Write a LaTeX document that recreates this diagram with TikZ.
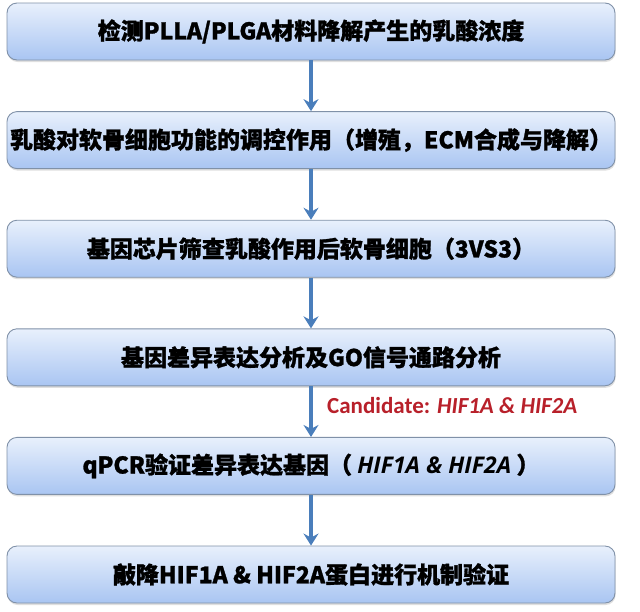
\documentclass[tikz,border=0pt]{standalone}
\usepackage{fontspec}
\setmainfont{Noto Sans CJK SC}[BoldFeatures={FakeBold=1.2}]
\newfontfamily\latit{Open Sans}[BoldFeatures={FakeBold=0.6}]
\newfontfamily\calfont{Carlito}
\usetikzlibrary{arrows.meta,shadows}
\definecolor{boxtop}{HTML}{E8F0FC}
\definecolor{boxbot}{HTML}{A9C5F2}
\definecolor{boxline}{HTML}{8091A8}
\definecolor{arr}{HTML}{4A7EBB}
\definecolor{redtxt}{HTML}{B8202A}
\begin{document}
\begin{tikzpicture}[x=1pt,y=-1pt,
  stepbox/.style={draw=boxline, line width=0.9pt, rounded corners=10pt,
    top color=boxtop, bottom color=boxbot,
    minimum width=608pt, minimum height=57pt, inner sep=0pt,
    font=\fontsize{23}{27}\selectfont\bfseries,
    drop shadow={shadow xshift=0.6pt, shadow yshift=-2pt, opacity=0.25}},
  flow/.style={draw=arr, line width=3.2pt, -{Stealth[length=12pt,width=15pt,inset=4pt]}},
  cand/.style={anchor=west, text=redtxt, inner sep=0pt,
    font=\calfont\fontsize{23}{27}\selectfont\bfseries}]
\useasboundingbox[fill=white] (0,0) rectangle (640,611);
\node[stepbox] (b1) at (311,31.5) {检测PLLA/PLGA材料降解产生的乳酸浓度};
\node[stepbox] (b2) at (311,140.1) {乳酸对软骨细胞功能的调控作用（增殖，ECM合成与降解）};
\node[stepbox] (b3) at (311,248.7) {基因芯片筛查乳酸作用后软骨细胞（3VS3）};
\node[stepbox] (b4) at (311,357.3) {基因差异表达分析及GO信号通路分析};
\node[stepbox] (b5) at (311,465.9) {qPCR验证差异表达基因（ {\latit\itshape HIF1A \& HIF2A} ）};
\node[stepbox] (b6) at (311,574.5) {敲降HIF1A \& HIF2A蛋白进行机制验证};
\node[cand] (c) at (327,406) {Candidate: \textit{HIF1A \& HIF2A}};
\draw[flow] (b1) -- (b2);
\draw[flow] (b2) -- (b3);
\draw[flow] (b3) -- (b4);
\draw[flow] (b4) -- (b5);
\draw[flow] (b5) -- (b6);
\end{tikzpicture}
\end{document}
